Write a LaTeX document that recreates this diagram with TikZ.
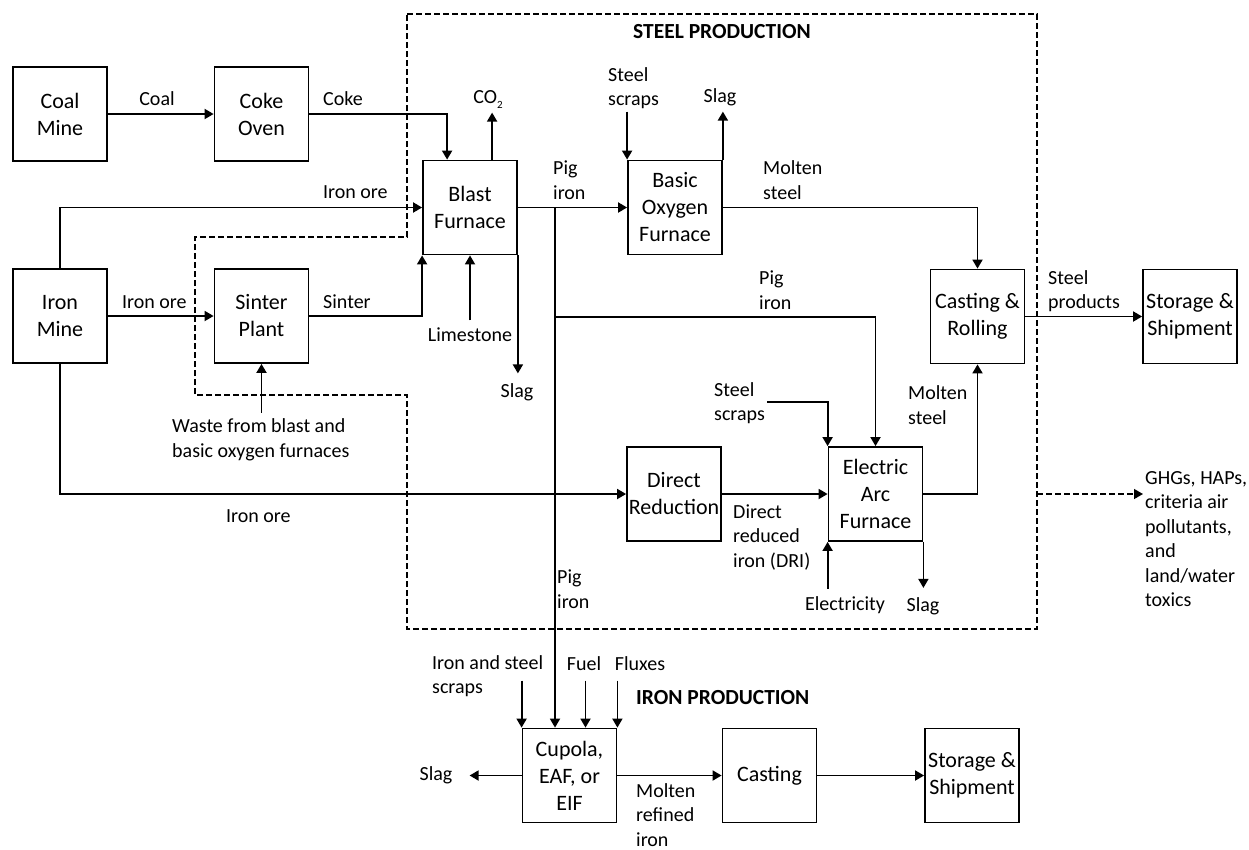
\documentclass[tikz,border=0pt]{standalone}
\usepackage{fontspec}
\setmainfont{Carlito}
\usetikzlibrary{arrows.meta}
\tikzset{
  box/.style={draw, line width=1.8pt, minimum width=94pt, minimum height=94pt, inner sep=0pt, align=center, font=\fontsize{22}{27}\selectfont},
  lbl/.style={inner sep=0pt, align=left, font=\fontsize{20}{24.5}\selectfont},
  ttl/.style={inner sep=0pt, font=\fontsize{21.5}{26}\selectfont\bfseries},
  conn/.style={line width=1.8pt},
  flow/.style={line width=1.8pt, -{Triangle[length=9pt,width=10pt]}},
  bound/.style={line width=1.3pt, dash pattern=on 6pt off 3pt},
}
\begin{document}
\begin{tikzpicture}[x=1pt,y=-1pt]
\useasboundingbox (0,0) rectangle (1249,849);
% boxes
\node[box] (coal) at (60,114) {Coal\\Mine};
\node[box] (coke) at (261.5,114) {Coke\\Oven};
\node[box] (imine) at (60,316) {Iron\\Mine};
\node[box] (sinter) at (261.5,316) {Sinter\\Plant};
\node[box] (bf) at (470,207.5) {Blast\\Furnace};
\node[box] (bof) at (675,207.5) {Basic\\Oxygen\\Furnace};
\node[box] (cr) at (977.5,316.5) {Casting \&\\Rolling};
\node[box] (st1) at (1190,316.5) {Storage \&\\Shipment};
\node[box] (dr) at (674,494) {Direct\\Reduction};
\node[box] (eaf) at (875.5,494) {Electric\\Arc\\Furnace};
\node[box] (cup) at (569.5,775.5) {Cupola,\\EAF, or\\EIF};
\node[box] (cast) at (769.5,775.5) {Casting};
\node[box] (st2) at (972,775.5) {Storage \&\\Shipment};
% boundary
\draw[bound] (407,14) -- (1037,14) -- (1037,629) -- (407,629) -- (407,395) -- (195,395) -- (195,237) -- (407,237) -- cycle;
\node[ttl] (tsteel) at (722,32) {STEEL PRODUCTION};
\node[ttl, anchor=west] (tiron) at (636,698) {IRON PRODUCTION};
% labels
\node[lbl] (lcoal) at (157,99) {Coal};
\node[lbl, anchor=west] (lcoke) at (323,99) {Coke};
\node[lbl, anchor=west] (lore1) at (323,192) {Iron ore};
\node[lbl, anchor=west] (lore2) at (122,302) {Iron ore};
\node[lbl, anchor=west] (lsinter) at (323,302) {Sinter};
\node[lbl, anchor=west] (lwaste) at (172,440) {Waste from blast and\\basic oxygen furnaces};
\node[lbl] (llime) at (470,335) {Limestone};
\node[lbl] (lslag1) at (517,392) {Slag};
\node[lbl, anchor=west] (lore3) at (226,516) {Iron ore};
\node[lbl] (lco2) at (488,100) {CO{\raisebox{-5pt}{\fontsize{11}{11}\selectfont 2}}};
\node[lbl, anchor=west] (lpig1) at (553,180) {Pig\\iron};
\node[lbl, anchor=west] (lscrap1) at (608,88) {Steel\\scraps};
\node[lbl] (lslag2) at (720,97) {Slag};
\node[lbl, anchor=west] (lmolten1) at (763,180) {Molten\\steel};
\node[lbl, anchor=west] (lpig2) at (759,290) {Pig\\iron};
\node[lbl, anchor=west] (lprod) at (1048,291) {Steel\\products};
\node[lbl, anchor=west] (lscrap2) at (714,403) {Steel\\scraps};
\node[lbl, anchor=west] (lmolten2) at (908,405) {Molten\\steel};
\node[lbl, anchor=west] (ldri) at (733,537) {Direct\\reduced\\iron (DRI)};
\node[lbl, anchor=west] (lpig3) at (557,589) {Pig\\iron};
\node[lbl] (lelec) at (845,605) {Electricity};
\node[lbl] (lslag3) at (923,606) {Slag};
\node[lbl, anchor=west] (lghg) at (1145,539) {GHGs, HAPs,\\criteria air\\pollutants,\\and\\land/water\\toxics};
\node[lbl, anchor=west] (lscrap3) at (432,676) {Iron and steel\\scraps};
\node[lbl] (lfuel) at (584,664) {Fuel};
\node[lbl] (lflux) at (640,664) {Fluxes};
\node[lbl] (lslag4) at (436,775) {Slag};
\node[lbl, anchor=west] (lmolten3) at (636,815) {Molten\\refined\\iron};
% coordinates
\coordinate (pj1) at (555,207.5);
\coordinate (pj2) at (555,317);
\coordinate (ss2) at (767,402);
\coordinate (gs) at (1037,494);
\coordinate (ge) at (1143,494);
% connectors
\draw[flow] (coal) -- (coke);
\draw[flow] (coke.east) -| ([xshift=25pt]bf.north west);
\draw[flow] ([xshift=70pt]bf.north west) -- ++(0,-47);
\draw[flow] (imine.north) |- (bf.west);
\draw[flow] (imine) -- (sinter);
\draw[flow] (sinter.east) -| (bf.south west);
\draw[flow] ([yshift=-65pt]bf.south) -- (bf.south);
\draw[flow] (bf.south east) -- ++(0,118);
\draw[flow] (lwaste.north -| sinter.south) ++(0,-6) -- (sinter.south);
\draw[flow] (bf) -- (bof);
\draw[conn] (pj1) -- (pj2);
\draw[flow] (pj2) -- (pj2 |- cup.north);
\draw[flow] (pj2) -| (eaf.north);
\draw[flow] ([yshift=48pt]bof.north west) -- (bof.north west);
\draw[flow] (bof.north east) -- ++(0,-48);
\draw[flow] (bof.east) -| (cr.north);
\draw[flow] (cr) -- (st1);
\draw[flow] (eaf.east) -| (cr.south);
\draw[flow] (imine.south) |- (dr.west);
\draw[flow] (dr) -- (eaf);
\draw[flow] (ss2) -| (eaf.north west);
\draw[flow] ([yshift=-47pt]eaf.south west) -- (eaf.south west);
\draw[flow] (eaf.south east) -- ++(0,46);
\draw[bound, -{Triangle[length=9pt,width=10pt]}] (gs) -- (ge);
\draw[flow] ([yshift=47pt]cup.north west) -- (cup.north west);
\draw[flow] ([xshift=16pt,yshift=47pt]cup.north) -- ([xshift=16pt]cup.north);
\draw[flow] ([yshift=47pt]cup.north east) -- (cup.north east);
\draw[flow] (cup.west) -- ++(-52,0);
\draw[flow] (cup) -- (cast);
\draw[flow] (cast) -- (st2);
\end{tikzpicture}
\end{document}
